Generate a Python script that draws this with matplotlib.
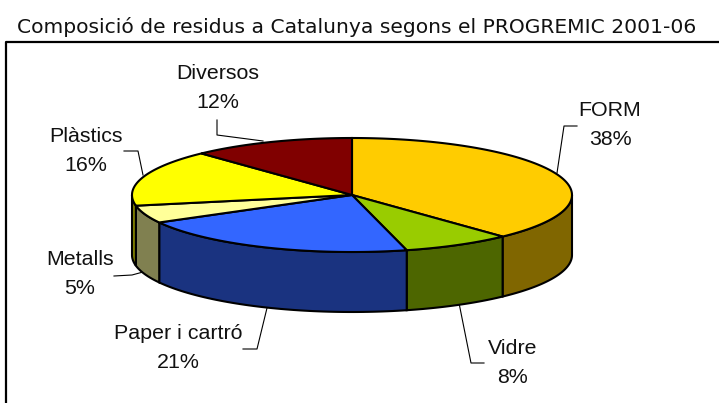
import numpy as np
import matplotlib
matplotlib.use('Agg')
import matplotlib.pyplot as plt

title = 'Composició de residus a Catalunya segons el PROGREMIC 2001-06'
categories = ['FORM', 'Vidre', 'Paper i cartró', 'Metalls', 'Plàstics', 'Diversos']
values = [38, 8, 21, 5, 16, 12]
top_colors = ['#FFCC00', '#99CC00', '#3366FF', '#FFFF99', '#FFFF00', '#800000']
side_colors = ['#806600', '#4D6600', '#1A3380', '#808050', '#808000', '#400000']

# label text centre, then the leader line that goes back to the pie
label_pos = [(610, 124), (513, 362), (178, 347), (80, 273), (86, 150), (218, 87)]
leaders = [
    [(577, 126), (564, 126), (557, 173)],
    [(484, 363), (471, 363), (459, 303)],
    [(243, 349), (257, 349), (267, 308)],
    [(114, 276), (132, 275), (143, 272)],
    [(124, 151), (138, 151), (143, 175)],
    [(217, 120), (217, 135), (263, 141)],
]

cx, cy = 352, 195
a, b = 220, 57
depth = 60


def ell(frac, dy=0):
    t = 2 * np.pi * np.asarray(frac)
    return cx + a * np.sin(t), cy - b * np.cos(t) + dy


fig = plt.figure(figsize=(7.19, 4.03), dpi=100)
ax = fig.add_axes([0, 0, 1, 1])
ax.set_xlim(0, 719)
ax.set_ylim(403, 0)
ax.axis('off')

# chart frame, runs off the bottom and right of the picture
ax.plot([5.5, 5.5, 725], [410, 42, 42], color='k', lw=1.6, zorder=1)
ax.text(356.5, 27, title, family='DejaVu Sans', fontsize=14.55, ha='center', va='center', color='#111111')

edges = np.concatenate([[0], np.cumsum(values)]) / np.sum(values)

# walls, only the front half of the ellipse shows
for i in range(len(values)):
    lo, hi = max(edges[i], 0.25), min(edges[i + 1], 0.75)
    if hi <= lo:
        continue
    f = np.linspace(lo, hi, 60)
    x, y = ell(f)
    xb, yb = ell(f[::-1], depth)
    ax.fill(np.r_[x, xb], np.r_[y, yb], fc=side_colors[i], ec='k', lw=1.5, zorder=2)

# top faces
for i in range(len(values)):
    f = np.linspace(edges[i], edges[i + 1], 120)
    x, y = ell(f)
    ax.fill(np.r_[cx, x], np.r_[cy, y], fc=top_colors[i], ec='k', lw=1.5, zorder=3, joinstyle='miter')

for name, val, pos, line in zip(categories, values, label_pos, leaders):
    xs, ys = zip(*line)
    ax.plot(xs, ys, color='k', lw=0.8, zorder=1.5)
    ax.text(pos[0], pos[1] + 1, '%s\n%d%%' % (name, val), family='Liberation Sans', fontsize=15.4,
            ha='center', va='center', linespacing=1.68, zorder=4, color='#111111')

fig.savefig('out.png', dpi=100)
